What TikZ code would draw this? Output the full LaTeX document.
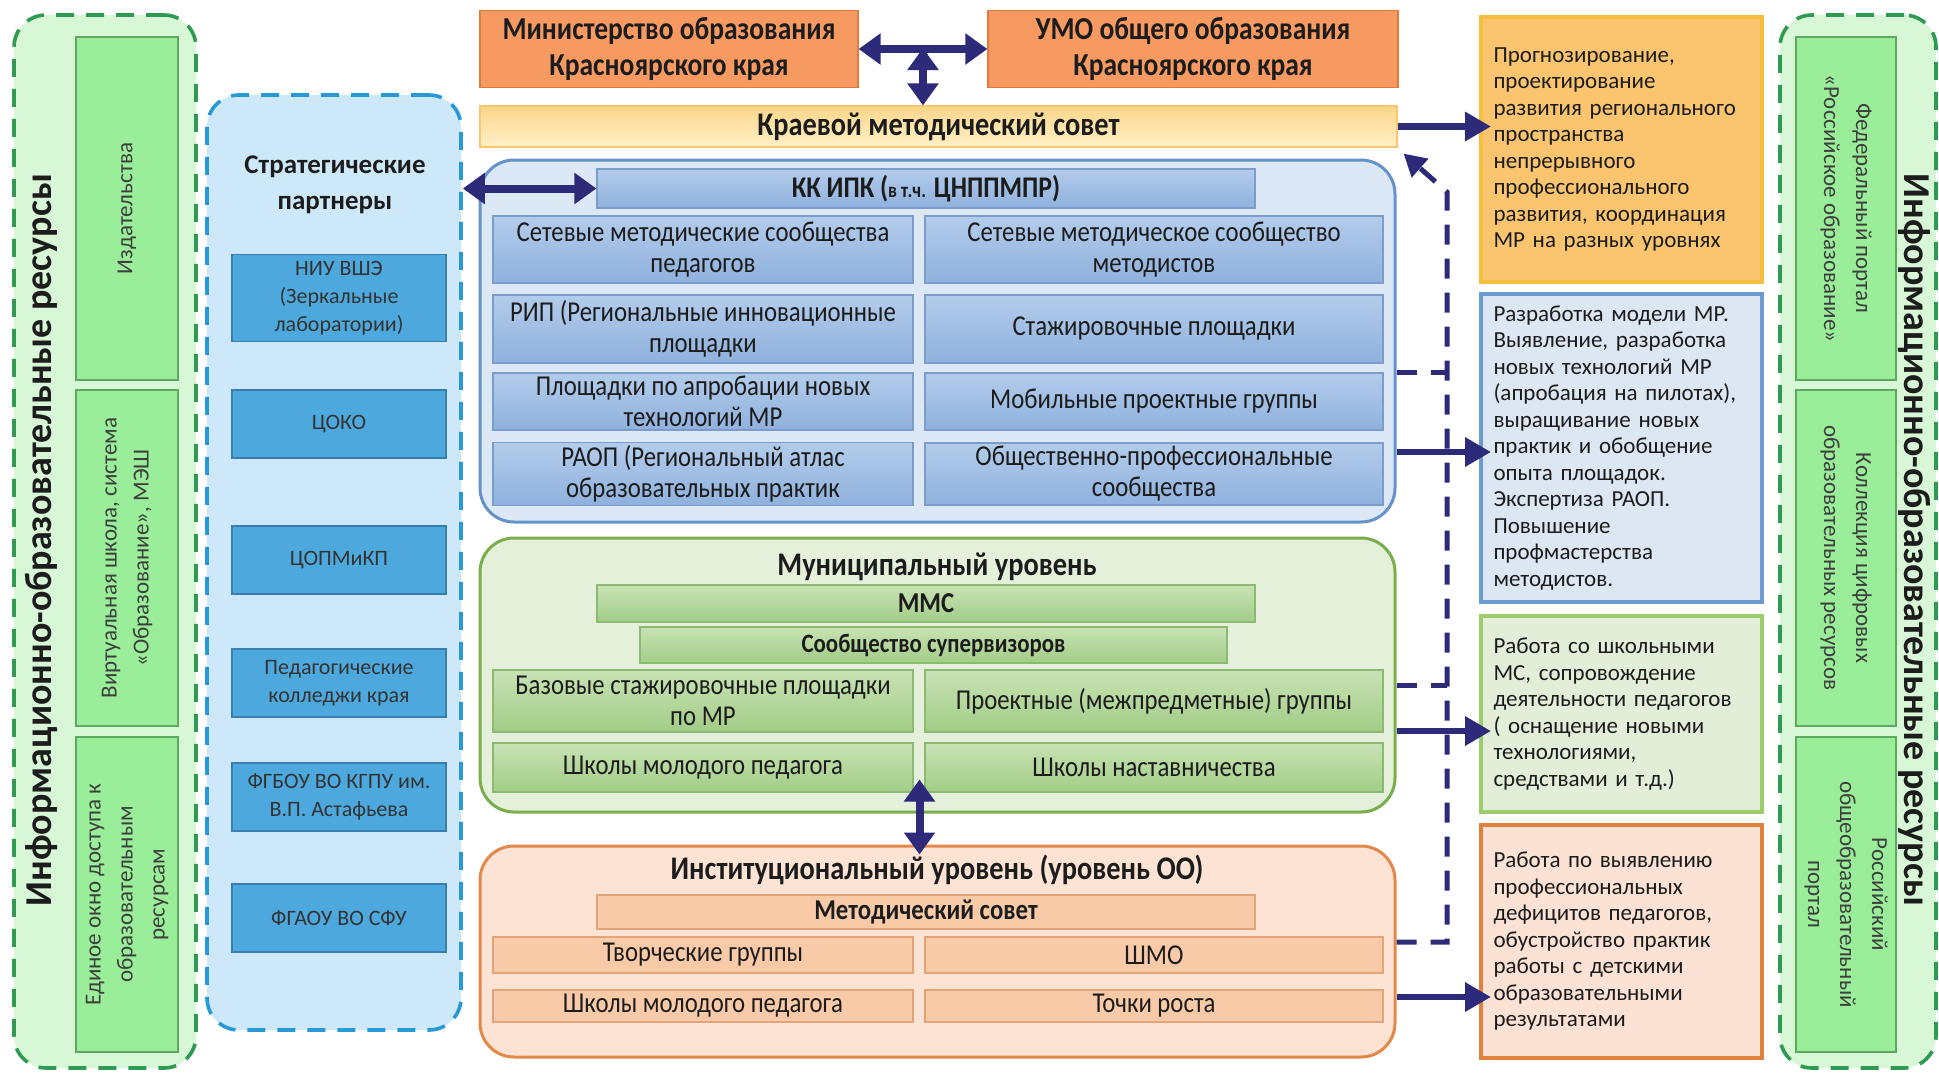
\documentclass[tikz,border=0pt]{standalone}
\usepackage{fontspec}
\setmainfont{Carlito}
\newfontfamily\narrowfont[FakeStretch=0.86]{Carlito}
\usepackage{xcolor}
\usetikzlibrary{arrows.meta,positioning}
\definecolor{navy}{HTML}{2D2A7A}
\definecolor{resfill}{HTML}{D7F7D7}
\definecolor{resdash}{HTML}{2E9A52}
\definecolor{resbox}{HTML}{9AEE9A}
\definecolor{resline}{HTML}{5FA85F}
\definecolor{partfill}{HTML}{CDE8F9}
\definecolor{partdash}{HTML}{2799D6}
\definecolor{partbox}{HTML}{4DA9DD}
\definecolor{partline}{HTML}{3A7DB0}
\definecolor{topfill}{HTML}{F79A62}
\definecolor{topline}{HTML}{E07B3D}
\definecolor{councilA}{HTML}{FCD68A}
\definecolor{councilB}{HTML}{FFF0C8}
\definecolor{kkfill}{HTML}{DCE8F6}
\definecolor{kkline}{HTML}{6593C9}
\definecolor{kkA}{HTML}{B3CCEB}
\definecolor{kkB}{HTML}{8FB1DD}
\definecolor{kkcellline}{HTML}{7C9DCB}
\definecolor{munifill}{HTML}{E5F0DA}
\definecolor{muniline}{HTML}{7AAD4C}
\definecolor{muniA}{HTML}{C8E2B4}
\definecolor{muniB}{HTML}{A2CD87}
\definecolor{municellline}{HTML}{8DBA73}
\definecolor{instfill}{HTML}{FCE3D3}
\definecolor{instline}{HTML}{E2884B}
\definecolor{instcell}{HTML}{F9CAA7}
\definecolor{instcellline}{HTML}{E3A47A}
\definecolor{goalyellow}{HTML}{FAC56E}
\definecolor{goalyellowline}{HTML}{F6BE3E}
\definecolor{goalblue}{HTML}{DCE7F3}
\definecolor{goalblueline}{HTML}{6A9CD0}
\definecolor{goalgreen}{HTML}{E3EED8}
\definecolor{goalgreenline}{HTML}{9DCC6A}
\definecolor{goalorange}{HTML}{FBE2D4}
\definecolor{goalorangeline}{HTML}{E0823D}
\definecolor{ink}{HTML}{1C1C1C}
\tikzset{
  resframe/.style={draw=resdash,fill=resfill,line width=1.8pt,dash pattern=on 9pt off 6pt,rounded corners=16pt},
  restitle/.style={font=\fontsize{19pt}{22pt}\selectfont\bfseries,text=ink},
  resbox/.style={draw=resline,fill=resbox,line width=0.6pt,align=center,inner sep=2pt,
    font=\fontsize{11.5pt}{16pt}\selectfont,text=ink!85},
  partframe/.style={draw=partdash,fill=partfill,line width=1.8pt,dash pattern=on 9pt off 6pt,rounded corners=16pt},
  parthead/.style={align=center,font=\fontsize{13.5pt}{18pt}\selectfont\bfseries,text=ink},
  partbox/.style={draw=partline,fill=partbox,line width=0.6pt,align=center,minimum width=107pt,
    font=\fontsize{11pt}{14pt}\selectfont,text=ink!90},
  topbox/.style={draw=topline,fill=topfill,line width=0.6pt,align=center,
    font=\narrowfont\fontsize{16pt}{18pt}\selectfont\bfseries,text=ink},
  councilbox/.style={draw=councilA!80!orange,top color=councilA,bottom color=councilB,line width=0.6pt,
    inner ysep=1pt,font=\narrowfont\fontsize{16.5pt}{18pt}\selectfont\bfseries,text=ink},
  kkframe/.style={draw=kkline,fill=kkfill,line width=1.5pt,rounded corners=17pt},
  cellfont/.style={inner xsep=3pt,inner ysep=1.5pt,align=center,font=\narrowfont\fontsize{14.4pt}{15.5pt}\selectfont,text=ink},
  kkcell/.style={cellfont,draw=kkcellline,top color=kkA,bottom color=kkB,line width=0.6pt},
  muniframe/.style={draw=muniline,fill=munifill,line width=1.5pt,rounded corners=17pt},
  municell/.style={cellfont,draw=municellline,top color=muniA,bottom color=muniB,line width=0.6pt},
  instframe/.style={draw=instline,fill=instfill,line width=1.5pt,rounded corners=17pt},
  instcell/.style={cellfont,draw=instcellline,fill=instcell,line width=0.6pt},
  boldcell/.style={font=\narrowfont\fontsize{14.4pt}{15.5pt}\selectfont\bfseries},
  lvltitle/.style={font=\narrowfont\fontsize{16.5pt}{18pt}\selectfont\bfseries,text=ink},
  lcell/.style={minimum width=210pt},
  rcell/.style={minimum width=229pt},
  wcell/.style={minimum width=329pt},
  goalbox/.style={line width=2pt,minimum width=140.5pt,text width=128pt,align=left,
    font=\fontsize{11.5pt}{13.25pt}\selectfont,text=ink},
  biarrow/.style={navy,line width=4pt,{Triangle[length=11pt,width=15pt]}-{Triangle[length=11pt,width=15pt]}},
  outarrow/.style={navy,line width=3.2pt,-{Triangle[length=13pt,width=14pt]},shorten >=-6pt},
  feedback/.style={navy,line width=2.5pt,dash pattern=on 10pt off 7pt},
}
\begin{document}
\begin{tikzpicture}[x=0.5pt,y=-0.5pt]
\useasboundingbox (0,0) rectangle (1939,1073);

\node[resframe,minimum width=91pt,minimum height=526.5pt] (leftres) at (105,541.5) {};
\node[restitle,rotate=90] (lefttitle) at (41,540) {Информационно-образовательные ресурсы};
\node[resbox,rotate=90,minimum width=171.5pt,minimum height=51pt] (publ) at (127,208.5) {Издательства};
\node[resbox,rotate=90,minimum width=168pt,minimum height=51pt] (virt) at (127,558) {Виртуальная школа, система\\«Образование», МЭШ};
\node[resbox,rotate=90,minimum width=157.5pt,minimum height=51pt] (window) at (127,894.5) {Единое окно доступа к\\образовательным\\ресурсам};

\node[partframe,minimum width=127pt,minimum height=467.5pt] (partners) at (334,562.5) {};
\node[parthead] (parttitle) at (335,185) {Стратегические\\партнеры};
\node[partbox,minimum height=42pt] (hse) at (339,298) {НИУ ВШЭ\\(Зеркальные\\лаборатории)};
\node[partbox,minimum height=34pt] (coko) at (339,424) {ЦОКО};
\node[partbox,minimum height=34pt] (copm) at (339,560) {ЦОПМиКП};
\node[partbox,minimum height=34pt] (colleges) at (339,683) {Педагогические\\колледжи края};
\node[partbox,minimum height=34pt] (kspu) at (339,797) {ФГБОУ ВО КГПУ им.\\В.П. Астафьева};
\node[partbox,minimum height=34pt] (sfu) at (339,918) {ФГАОУ ВО СФУ};

\node[topbox,minimum width=189pt,minimum height=32pt] (ministry) at (669,49) {Министерство образования\\Красноярского края};
\node[topbox,minimum width=205pt,minimum height=32pt] (umo) at (1193,49) {УМО общего образования\\Красноярского края};
\node[councilbox,minimum width=458.5pt,minimum height=20.5pt] (council) at (938.5,126.5) {Краевой методический совет};
\coordinate (tjoint) at (923,42);
\draw[biarrow] (ministry) -- (umo);
\draw[biarrow] ([yshift=-3pt]tjoint) -- (tjoint |- council.north);

\node[kkframe,minimum width=457.5pt,minimum height=181pt] (kk) at (937.5,341) {};
\node[kkcell,wcell,minimum height=19.5pt,font=\narrowfont\fontsize{15pt}{16pt}\selectfont\bfseries] (kkhead) at (926,188.5) {КК ИПК ({\fontsize{10.5pt}{12pt}\selectfont в т.ч.} ЦНППМПР)};
\node[kkcell,lcell,minimum height=33.5pt] (netped) at (703,249.5) {Сетевые методические сообщества\\педагогов};
\node[kkcell,rcell,minimum height=33.5pt] (netmet) at (1154,249.5) {Сетевые методическое сообщество\\методистов};
\node[kkcell,lcell,minimum height=34pt] (rip) at (703,329) {РИП (Региональные инновационные\\площадки};
\node[kkcell,rcell,minimum height=34pt] (intern) at (1154,329) {Стажировочные площадки};
\node[kkcell,lcell,minimum height=28.5pt] (approb) at (703,401.5) {Площадки по апробации новых\\технологий МР};
\node[kkcell,rcell,minimum height=28.5pt] (mobile) at (1154,401.5) {Мобильные проектные группы};
\node[kkcell,lcell,minimum height=31pt] (raop) at (703,474) {РАОП (Региональный атлас\\образовательных практик};
\node[kkcell,rcell,minimum height=31pt] (prof) at (1154,474) {Общественно-профессиональные\\сообщества};
\draw[biarrow] (partners.east |- kkhead) -- (kkhead.west);

\node[muniframe,minimum width=457.5pt,minimum height=137pt] (muni) at (937.5,675) {};
\node[lvltitle] (munititle) at (937,567) {Муниципальный уровень};
\node[municell,wcell,boldcell,minimum height=18.5pt] (mmc) at (926,603.5) {ММС};
\node[municell,boldcell,minimum width=293.5pt,minimum height=18pt,font=\narrowfont\fontsize{13.3pt}{15pt}\selectfont\bfseries] (super) at (933.5,645) {Сообщество супервизоров};
\node[municell,lcell,minimum height=31pt] (base) at (703,701) {Базовые стажировочные площадки\\по МР};
\node[municell,rcell,minimum height=31pt] (proj) at (1154,701) {Проектные (межпредметные) группы};
\node[municell,lcell,minimum height=24.5pt] (young) at (703,767.5) {Школы молодого педагога};
\node[municell,rcell,minimum height=24.5pt] (mentor) at (1154,767.5) {Школы наставничества};

\node[instframe,minimum width=457.5pt,minimum height=105.5pt] (inst) at (937.5,951.5) {};
\node[lvltitle] (insttitle) at (937,870) {Институциональный уровень (уровень ОО)};
\node[instcell,wcell,boldcell,minimum height=17pt] (schoolmc) at (926,912) {Методический совет};
\node[instcell,lcell,minimum height=18pt] (creative) at (703,955) {Творческие группы};
\node[instcell,rcell,minimum height=18pt] (shmo) at (1154,955) {ШМО};
\node[instcell,lcell,minimum height=16pt] (youngoo) at (703,1006) {Школы молодого педагога};
\node[instcell,rcell,minimum height=16pt] (growth) at (1154,1006) {Точки роста};
\draw[biarrow] ([xshift=-9pt,yshift=17pt]muni.south) -- ([xshift=-9pt,yshift=-5pt]inst.north);

\node[goalbox,draw=goalyellowline,fill=goalyellow,minimum height=132.5pt] (goalreg) at (1621.5,149.5) {Прогнозирование,\\проектирование\\развития регионального\\пространства\\непрерывного\\профессионального\\развития, координация\\МР на разных уровнях};
\node[goalbox,draw=goalblueline,fill=goalblue,minimum height=154pt] (goalkk) at (1621.5,448) {Разработка модели МР.\\Выявление, разработка\\новых технологий МР\\(апробация на пилотах),\\выращивание новых\\практик и обобщение\\опыта площадок.\\Экспертиза РАОП.\\Повышение\\профмастерства\\методистов.};
\node[goalbox,draw=goalgreenline,fill=goalgreen,minimum height=98pt] (goalmuni) at (1621.5,714) {Работа со школьными\\МС, сопровождение\\деятельности педагогов\\( оснащение новыми\\технологиями,\\средствами и т.д.)};
\node[goalbox,draw=goalorangeline,fill=goalorange,minimum height=116.5pt] (goalinst) at (1621.5,941.5) {Работа по выявлению\\профессиональных\\дефицитов педагогов,\\обустройство практик\\работы с детскими\\образовательными\\результатами};

\draw[outarrow] (council.east) -- (council.east -| goalreg.west);
\draw[outarrow] ([yshift=-55.5pt]kk.east) -- ([yshift=-55.5pt]kk.east -| goalkk.west);
\draw[outarrow] ([yshift=-28pt]muni.east) -- ([yshift=-28pt]muni.east -| goalmuni.west);
\draw[outarrow] ([yshift=-22.75pt]inst.east) -- ([yshift=-22.75pt]inst.east -| goalinst.west);

\coordinate (busbot) at (1447,942);
\coordinate (bustop) at (1447,192);
\draw[feedback,-{Triangle[length=11pt,width=12pt]}] ([yshift=4.75pt]inst.east) -- (busbot) -- (bustop) -- ([xshift=3pt,yshift=-3pt]council.south east);
\draw[feedback] ([yshift=-15.5pt]kk.east) -- ([yshift=-15.5pt]kk.east -| bustop);
\draw[feedback] ([yshift=-5pt]muni.east) -- ([yshift=-5pt]muni.east -| bustop);

\node[resframe,minimum width=78pt,minimum height=526.5pt] (rightres) at (1858,541.5) {};
\node[restitle,rotate=-90] (righttitle) at (1915,540) {Информационно-образовательные ресурсы};
\node[resbox,rotate=-90,minimum width=171.5pt,minimum height=50pt] (fedportal) at (1846,208.5) {Федеральный портал\\«Российское образование»};
\node[resbox,rotate=-90,minimum width=168pt,minimum height=50pt] (digital) at (1846,558) {Коллекция цифровых\\образовательных ресурсов};
\node[resbox,rotate=-90,minimum width=157.5pt,minimum height=50pt] (genportal) at (1846,894.5) {Российский\\общеобразовательный\\портал};
\end{tikzpicture}
\end{document}
